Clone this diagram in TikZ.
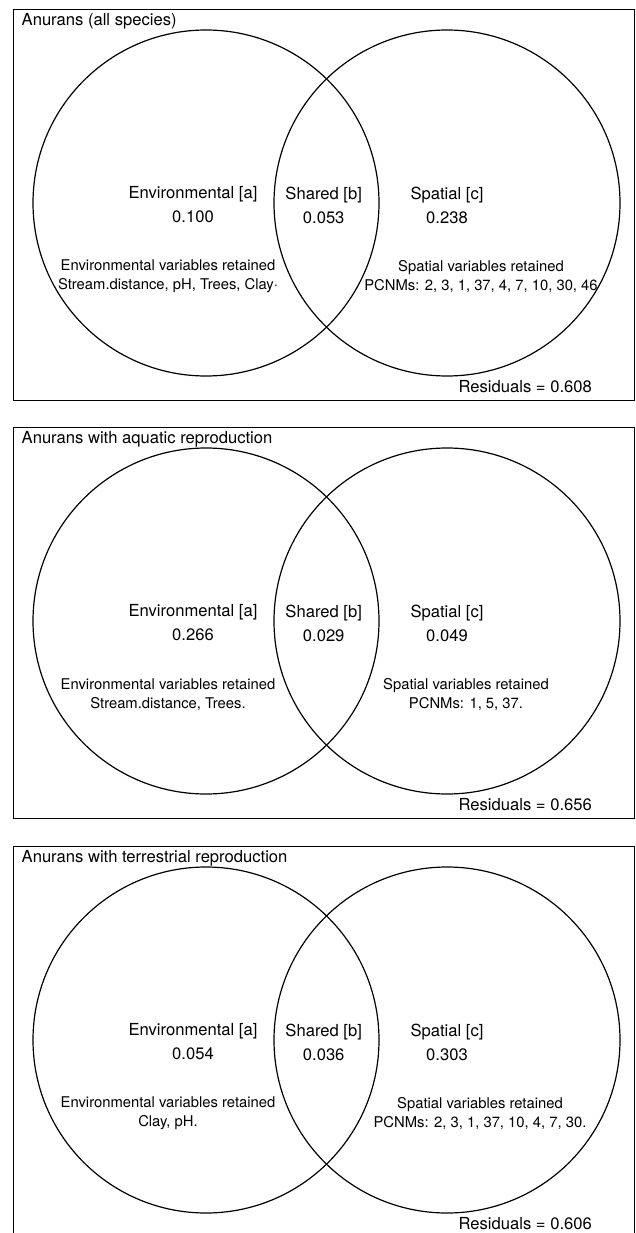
\documentclass[tikz,border=0pt]{standalone}
\usepackage{fontspec}
\setmainfont{TeX Gyre Heros}
\tikzset{
	venn/.style={line width=1.2pt},
	panelbox/.style={line width=0.9pt},
	biglabel/.style={align=center, inner sep=0pt, font=\fontsize{16.6}{24}\selectfont},
	varlabel/.style={align=center, inner sep=0pt, font=\fontsize{14.8}{19}\selectfont}
}
\begin{document}
\begin{tikzpicture}[x=1pt, y=-1pt]
		\useasboundingbox (0,0) rectangle (636,1233);
		
		\foreach \dy/\ttl/\va/\vb/\vc/\envvars/\spavars/\spx/\res [count=\i] in {
			0/{Anurans (all species)}/0.100/0.053/0.238/{Stream.distance, pH, Trees, Clay·}/{PCNMs: 2, 3, 1, 37, 4, 7, 10, 30, 46}/481/0.608,
			418/{Anurans with aquatic reproduction}/0.266/0.029/0.049/{Stream.distance, Trees.}/{PCNMs: 1, 5, 37.}/466/0.656,
			837/{Anurans with terrestrial reproduction}/0.054/0.036/0.303/{Clay, pH.}/{PCNMs: 2, 3, 1, 37, 10, 4, 7, 30.}/480/0.606}{
			%panel frame
			\draw[panelbox] (13,9+\dy) rectangle (634.5,400+\dy);
			\node[biglabel, anchor=west] (title\i) at (21.5,21.7+\dy) {\ttl};
			
			%the two sets
			\draw[venn] (206,203+\dy) circle (173pt);
			\draw[venn] (447,203+\dy) circle (173pt);
			
			\node[biglabel] (env\i) at (193,205+\dy) {Environmental [a]\\\va};
			\node[biglabel] (shr\i) at (323.7,205+\dy) {Shared [b]\\\vb};
			\node[biglabel] (spa\i) at (447,205+\dy) {Spatial [c]\\\vc};
			
			\node[varlabel] (envvar\i) at (168,276.5+\dy) {Environmental variables retained\\\envvars};
			\node[varlabel] (spavar\i) at (\spx,276.5+\dy) {Spatial variables retained\\\spavars};
			
			\node[biglabel, anchor=east] (res\i) at (592,387+\dy) {Residuals = \res};
		}
\end{tikzpicture}
\end{document}
